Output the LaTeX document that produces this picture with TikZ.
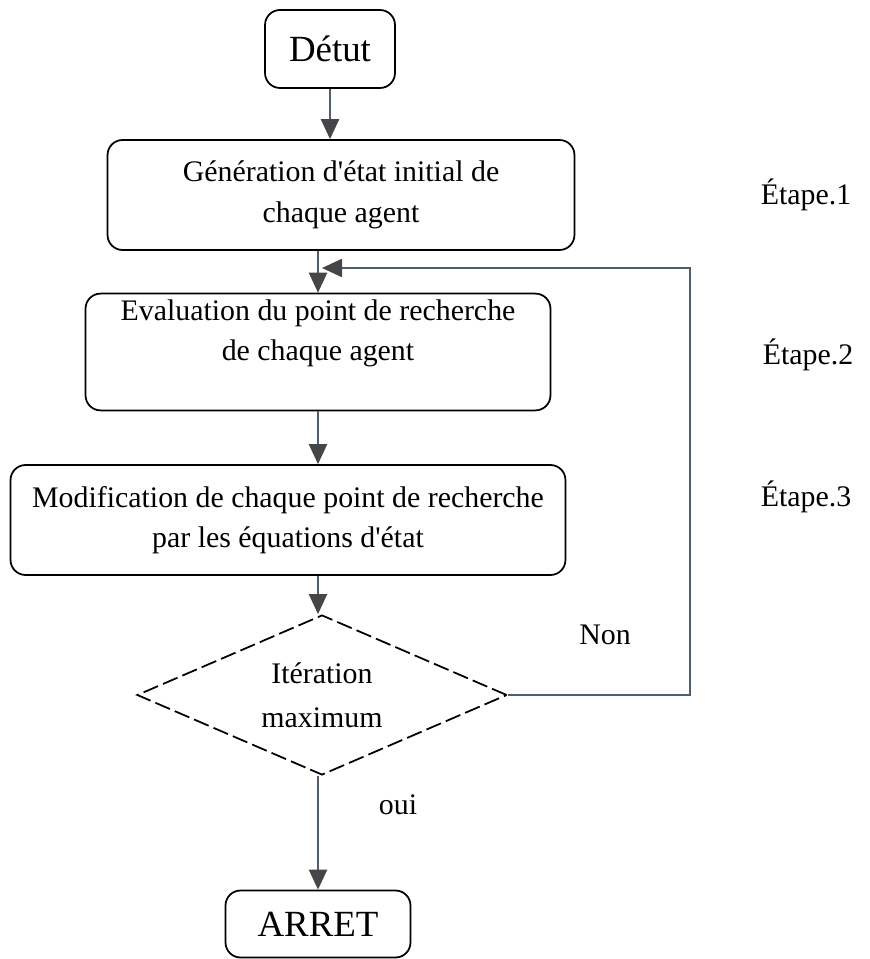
\documentclass[tikz,border=0pt]{standalone}
\usepackage{fontspec}
\setmainfont{Liberation Serif}
\usetikzlibrary{arrows.meta, shapes.geometric, positioning}

\definecolor{trait}{RGB}{80,95,110}
\definecolor{pointe}{RGB}{70,70,72}

\begin{document}
\begin{tikzpicture}[x=0.02cm, y=-0.02cm,
        boite/.style={draw, rounded corners=0.3cm, line width=1pt, align=center, font=\fontsize{17}{23}\selectfont},
        borne/.style={boite, font=\fontsize{21}{24}\selectfont},
        losange/.style={draw, diamond, dashed, dash pattern=on 9pt off 3pt, line width=1pt, aspect=2.3, inner sep=0pt, align=center, font=\fontsize{17}{25}\selectfont},
        etiquette/.style={font=\fontsize{17}{20}\selectfont},
        fleche/.style={draw=trait, line width=1.3pt, -{Triangle[length=0.4cm, width=0.36cm, color=pointe]}}]
        \useasboundingbox (0,0) rectangle (869,959);

        %Kästen
        \node[borne, minimum width=2.6cm, minimum height=1.56cm] (debut) at (330,49) {Détut};
        \node[boite, minimum width=9.34cm, minimum height=2.2cm] (gen) at (341,195) {Génération d\textquotesingle état initial de\\chaque agent};
        \node[boite, minimum width=9.3cm, minimum height=2.3cm] (eval) at (318,352) {Evaluation du point de recherche\\de chaque agent\\[2pt]~};
        \node[boite, minimum width=11.1cm, minimum height=2.2cm] (modif) at (288,520) {Modification de chaque point de recherche\\par les équations d\textquotesingle état};
        \node[losange, minimum width=7.4cm, minimum height=3.2cm] (test) at (322,695) {Itération\\maximum};
        \node[borne, minimum width=3.7cm, minimum height=1.34cm] (arret) at (318,924) {ARRET};

        %Etappen
        \node[etiquette] (etape1) at (806,195) {Étape.1};
        \node[etiquette] (etape2) at (808,355) {Étape.2};
        \node[etiquette] (etape3) at (806,497) {Étape.3};
        \node[etiquette] (non) at (605,635) {Non};
        \node[etiquette] (oui) at (398,805) {oui};

        %Pfeile
        \draw[fleche] (debut) -- (debut |- gen.north);
        \draw[fleche] (gen.south -| eval.north) -- (eval.north);
        \draw[fleche] (eval) -- (eval.south |- modif.north);
        \draw[fleche] (eval.south |- modif.south) -- (test.north -| eval.south);
        \draw[fleche] (test.south -| eval.south) -- (arret.north);

        %Rückführung
        \coordinate (coin) at (690,268);
        \coordinate (entree) at (322,268);
        \draw[fleche] (test.east) -| (coin) -- (entree);
\end{tikzpicture}
\end{document}
